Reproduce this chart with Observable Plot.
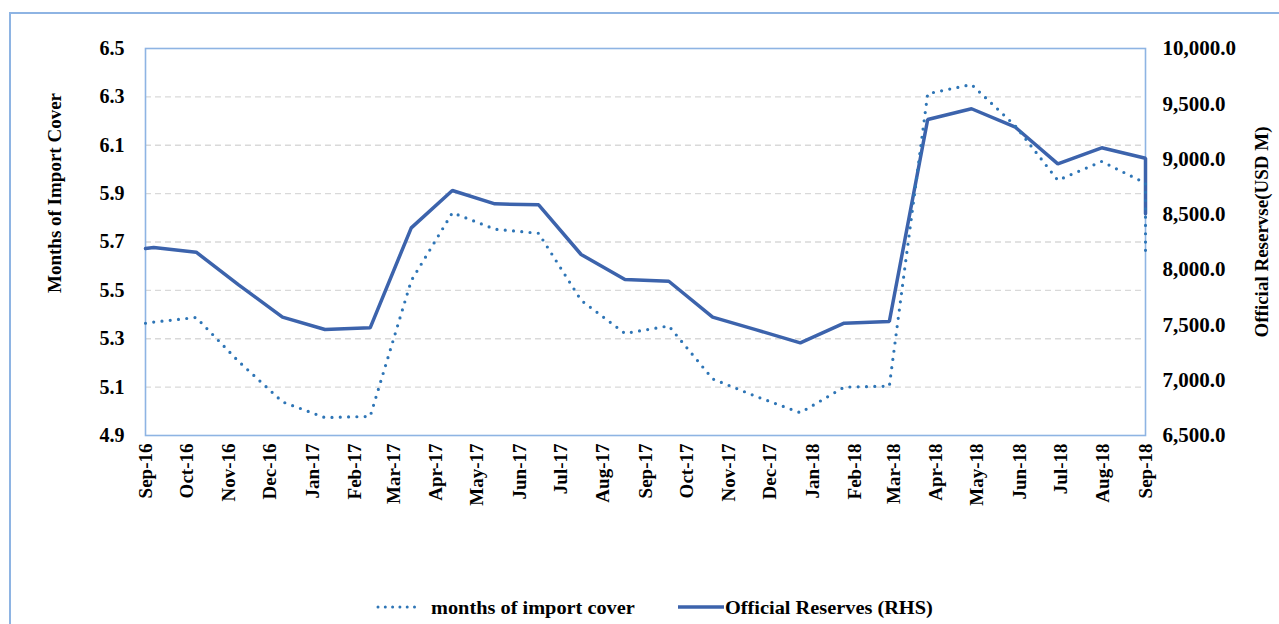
<!DOCTYPE html>
<html>
<head>
<meta charset="utf-8">
<script src="https://cdn.jsdelivr.net/npm/d3@7"></script>
<script src="https://cdn.jsdelivr.net/npm/@observablehq/plot@0.6"></script>
<style>
  html, body { margin: 0; padding: 0; background: #fff; }
  #wrap { position: relative; width: 1279px; height: 624px; overflow: hidden; font-family: "Liberation Serif", "Times New Roman", serif; font-weight: bold; color: #000; }
  #outer { position: absolute; left: 9px; top: 12px; width: 1400px; height: 700px; border-left: 2px solid #8eb4e3; border-top: 2px solid #8eb4e3; box-sizing: border-box; }
  #chart { position: absolute; left: 0; top: 0; }
  .ytitle { position: absolute; white-space: nowrap; font-size: 19px; transform: translate(-50%, -50%) rotate(-90deg); }
  .leg { position: absolute; font-size: 19px; white-space: nowrap; line-height: 1; }
</style>
</head>
<body>
<div id="wrap">
  <div id="outer"></div>
  <div id="chart"></div>
  <div class="ytitle" style="left:55px; top:193px;">Months of Import Cover</div>
  <div class="ytitle" style="left:1262px; top:232px;">Official Reservse(USD M)</div>
  <svg class="leg" style="left:375px; top:602px;" width="42" height="10"><line x1="3" y1="5" x2="40" y2="5" stroke="#2e75b6" stroke-width="3" stroke-dasharray="0 7.3" stroke-linecap="round"/></svg>
  <div class="leg" style="left:431px; top:598px; transform-origin: left center; transform: scaleX(1.07);">months of import cover</div>
  <svg class="leg" style="left:678px; top:602px;" width="46" height="10"><line x1="0" y1="5" x2="46" y2="5" stroke="#3c63ac" stroke-width="3.5"/></svg>
  <div class="leg" style="left:725px; top:598px; transform-origin: left center; transform: scaleX(1.07);">Official Reserves (RHS)</div>
</div>
<script>
// ---- data ----
const dates = [
  "2016-09-01","2016-09-07","2016-10-08","2016-11-08","2016-12-10",
  "2017-01-10","2017-02-12","2017-03-14","2017-04-13","2017-05-14",
  "2017-06-15","2017-07-16","2017-08-17","2017-09-18","2017-10-20",
  "2017-11-21","2017-12-23","2018-01-24","2018-02-26","2018-03-26",
  "2018-04-27","2018-05-29","2018-06-29","2018-07-31","2018-09-01","2018-09-01"
];
const importCover = [
  5.364, 5.369, 5.388, 5.206, 5.039,
  4.974, 4.979, 5.540, 5.821, 5.753,
  5.736, 5.459, 5.322, 5.353, 5.134,
  5.061, 4.994, 5.100, 5.104, 6.313,
  6.351, 6.180, 5.955, 6.033, 5.943, 5.637
];
const reserves = [
  8191, 8200, 8158, 7863, 7570,
  7459, 7474, 8378, 8716, 8595,
  8586, 8137, 7911, 7895, 7570,
  7455, 7338, 7516, 7531, 9358,
  9455, 9288, 8957, 9102, 9008, 8505
];
const monthLabels = [
  "Sep-16","Oct-16","Nov-16","Dec-16","Jan-17","Feb-17","Mar-17","Apr-17","May-17",
  "Jun-17","Jul-17","Aug-17","Sep-17","Oct-17","Nov-17","Dec-17","Jan-18","Feb-18",
  "Mar-18","Apr-18","May-18","Jun-18","Jul-18","Aug-18","Sep-18"
];
const leftTicks = [4.9, 5.1, 5.3, 5.5, 5.7, 5.9, 6.1, 6.3, 6.5];
const rightTicks = [6500, 7000, 7500, 8000, 8500, 9000, 9500, 10000];

// ---- build ----
const parseMonth = d3.utcParse("%b-%y");
const monthDates = monthLabels.map(parseMonth);
const data = dates.map((d, i) => ({date: new Date(d + "T00:00:00Z"), cover: importCover[i], reserves: reserves[i]}));
const y2 = d3.scaleLinear([rightTicks[0], rightTicks[rightTicks.length - 1]], [leftTicks[0], leftTicks[leftTicks.length - 1]]);
const fmtR = d3.format(",.1f");

const chart = Plot.plot({
  width: 1279,
  height: 580,
  marginLeft: 145,
  marginRight: 134,
  marginTop: 48,
  marginBottom: 145,
  x: {type: "utc", domain: [monthDates[0], monthDates[monthDates.length - 1]]},
  y: {domain: [leftTicks[0], leftTicks[leftTicks.length - 1]]},
  style: {fontFamily: "'Liberation Serif', 'Times New Roman', serif", fontWeight: "bold", fontSize: "20px", color: "#000", background: "transparent"},
  marks: [
    Plot.gridY(leftTicks.slice(1, -1), {stroke: "#d9d9d9", strokeOpacity: 1, strokeWidth: 1.3, strokeDasharray: "6,4"}),
    Plot.frame({stroke: "#8eb4e3", strokeWidth: 1.6}),
    Plot.axisY(leftTicks, {anchor: "left", tickSize: 0, tickPadding: 21, tickFormat: d => d.toFixed(1), label: null, fontSize: 20}),
    Plot.axisY(rightTicks.map(v => y2(v)), {anchor: "right", tickSize: 0, tickPadding: 17, tickFormat: d => fmtR(Math.round(y2.invert(d))), label: null, fontSize: 21}),
    Plot.axisX(monthDates, {anchor: "bottom", tickSize: 0, tickPadding: 8, tickRotate: -90, tickFormat: (d, i) => monthLabels[i], label: null, fontSize: 19}),
    Plot.line(data, {x: "date", y: d => y2(d.reserves), stroke: "#3c63ac", strokeWidth: 3.5, strokeLinejoin: "miter"}),
    Plot.line(data, {x: "date", y: "cover", stroke: "#2e75b6", strokeWidth: 3.2, strokeDasharray: "0 8.3", strokeLinecap: "round"})
  ]
});
document.getElementById("chart").appendChild(chart);
</script>
</body>
</html>
